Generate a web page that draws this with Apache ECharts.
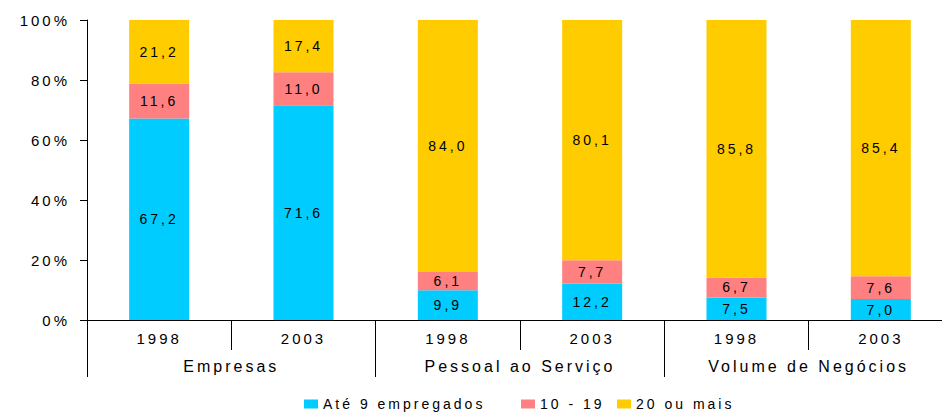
<!doctype html>
<html lang="pt">
<head>
<meta charset="UTF-8">
<title>Empresas, Pessoal ao Serviço e Volume de Negócios</title>
<script src="https://cdn.jsdelivr.net/npm/echarts@6/dist/echarts.min.js"></script>
<style>
    html, body { margin: 0; padding: 0; background: #fff; }
    #main { width: 942px; height: 412px; }
    /* the original uses a very wide, spaced-out font */
    #main text { letter-spacing: 3px; }
</style>
</head>
<body>
<div id="main"></div>
<script>
// categorias
var anos = ['1998', '2003', '1998', '2003', '1998', '2003'];
var grupos = ['Empresas', 'Pessoal ao Serviço', 'Volume de Negócios'];

// valores (%)
var ate9 = [67.2, 71.6, 9.9, 12.2, 7.5, 7.0];
var de10a19 = [11.6, 11.0, 6.1, 7.7, 6.7, 7.6];
var mais20 = [21.2, 17.4, 84.0, 80.1, 85.8, 85.4];

var nomes = ['Até 9 empregados', '10 - 19', '20 ou mais'];
var cores = ['#00CCFF', '#FF8080', '#FFCC00'];

var fonte = '"Liberation Sans", Arial, sans-serif';

function virgula(p) {
    return p.value.toFixed(1).replace('.', ',');
}

function serie(nome, dados, cor) {
    return {
        name: nome,
        type: 'bar',
        stack: 'total',
        barWidth: 60,
        data: dados,
        itemStyle: { color: cor },
        label: {
            show: true,
            position: 'inside',
            formatter: virgula,
            color: '#000',
            fontSize: 14,
            fontFamily: fonte
        }
    };
}

function legenda(nome, x) {
    return {
        data: [nome],
        left: x,
        top: 392,
        icon: 'rect',
        itemWidth: 14,
        itemHeight: 9,
        selectedMode: false,
        textStyle: { color: '#000', fontSize: 14, fontFamily: fonte }
    };
}

var myChart = echarts.init(document.getElementById('main'), null, { renderer: 'svg' });

var option = {
    animation: false,
    color: cores,
    // the plot runs a little past the right edge of the picture
    grid: { left: 87, top: 20, width: 866, height: 300, outerBoundsMode: 'none' },
    legend: [
        legenda(nomes[0], 299),
        legenda(nomes[1], 516),
        legenda(nomes[2], 612)
    ],
    xAxis: [
        {
            type: 'category',
            data: anos,
            position: 'bottom',
            axisLine: { show: true, lineStyle: { color: '#000', width: 1 } },
            axisTick: { show: true, length: 30, interval: 0, lineStyle: { color: '#000' } },
            axisLabel: { margin: 11, color: '#000', fontSize: 15, fontFamily: fonte }
        },
        {
            type: 'category',
            data: grupos,
            position: 'bottom',
            offset: 0,
            axisLine: { show: false },
            axisTick: { show: true, length: 57, interval: 0, lineStyle: { color: '#000' } },
            axisLabel: { margin: 38, color: '#000', fontSize: 16, fontFamily: fonte }
        }
    ],
    yAxis: {
        type: 'value',
        min: 0,
        max: 100,
        interval: 20,
        axisLine: { show: true, lineStyle: { color: '#000' } },
        axisTick: { show: true, length: 7, lineStyle: { color: '#000' } },
        splitLine: { show: false },
        axisLabel: {
            formatter: '{value}%',
            margin: 17,
            color: '#000',
            fontSize: 15,
            fontFamily: fonte
        }
    },
    series: [
        serie(nomes[0], ate9, cores[0]),
        serie(nomes[1], de10a19, cores[1]),
        serie(nomes[2], mais20, cores[2])
    ]
};

myChart.setOption(option);
</script>
</body>
</html>
